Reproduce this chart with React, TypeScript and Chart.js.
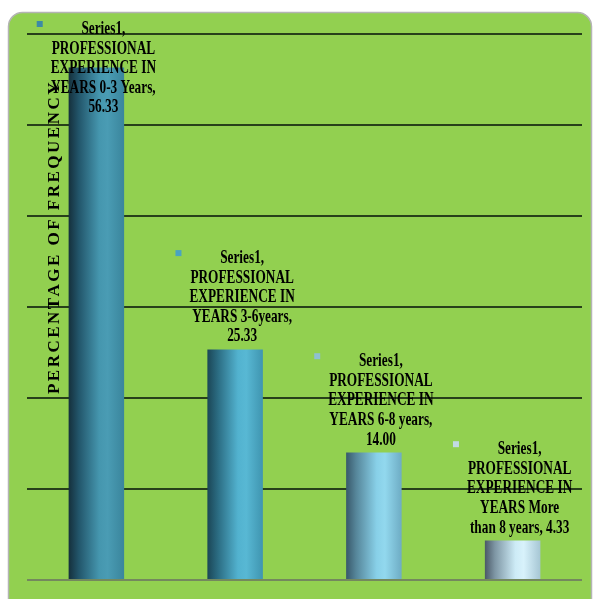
import React, { useEffect, useRef } from "react";
import { Chart, registerables } from "chart.js";

Chart.register(...registerables);

// ---- data ----
const seriesName = "Series1";
const categories = [
  "PROFESSIONAL EXPERIENCE IN YEARS 0-3 Years",
  "PROFESSIONAL EXPERIENCE IN YEARS 3-6years",
  "PROFESSIONAL EXPERIENCE IN YEARS 6-8 years",
  "PROFESSIONAL EXPERIENCE IN YEARS More than 8 years",
];
const values = [56.33, 25.33, 14.0, 4.33];
const yMin = 0;
const yMax = 60;
const yStep = 10;
const axisTitle = "PERCENTAGE OF FREQUENCY";

// ---- styles ----
const barStops = [
  ["#15303c", "#22556a", "#4596ae", "#4a9cb4", "#3a859c"],
  ["#1b4656", "#2a6a80", "#52b2cf", "#58b8d4", "#3f95b0"],
  ["#38586a", "#56869a", "#88d0e8", "#92d8ee", "#6eacc4"],
  ["#4a5866", "#7e96a4", "#cdebf6", "#d8f2fb", "#a6c6d4"],
];
const keyColors = ["#3c8aa6", "#4aa3c2", "#8ec0d2", "#c2dbe4"];
const LABEL_FONT = 'bold 19px "Liberation Serif", "Times New Roman", serif';
const SX = 0.7;
const LH = 19.6;
const GAP = 8;
const KEY = 6;
const KEYGAP = 8;
const MAXW = 107.3;

function wrap(ctx: CanvasRenderingContext2D, text: string, maxW: number) {
  const words = text.split(" ");
  const lines: string[] = [];
  let cur = "";
  for (const w of words) {
    const t = cur ? cur + " " + w : w;
    if (cur && ctx.measureText(t).width * SX > maxW) {
      lines.push(cur);
      cur = w;
    } else cur = t;
  }
  if (cur) lines.push(cur);
  return lines;
}

const panelPlugin = {
  id: "panel",
  beforeDraw(chart: any) {
    const ctx = chart.ctx;
    ctx.save();
    ctx.beginPath();
    ctx.roundRect(8.5, 12.5, 583, 600, 14);
    ctx.fillStyle = "#92d050";
    ctx.fill();
    ctx.lineWidth = 1.5;
    ctx.strokeStyle = "#b4b4b4";
    ctx.stroke();
    ctx.restore();
  },
};

const labelPlugin = {
  id: "labels",
  afterDatasetsDraw(chart: any) {
    const ctx = chart.ctx;
    const area = chart.chartArea;
    ctx.save();
    // axis title
    ctx.translate(area.left + 28, (area.top + area.bottom) / 2 - 70);
    ctx.rotate(-Math.PI / 2);
    ctx.font = 'bold 17px "Liberation Serif", "Times New Roman", serif';
    (ctx as any).letterSpacing = "2.5px";
    ctx.fillStyle = "#000";
    ctx.textAlign = "center";
    ctx.textBaseline = "middle";
    ctx.fillText(axisTitle, 0, 0);
    ctx.restore();

    const meta = chart.getDatasetMeta(0);
    ctx.save();
    ctx.font = LABEL_FONT;
    meta.data.forEach((el: any, i: number) => {
      const text = `${seriesName}, ${categories[i]}, ${values[i].toFixed(2)}`;
      const lines = wrap(ctx, text, MAXW);
      const W = Math.max(...lines.map((l) => ctx.measureText(l).width * SX));
      const cx = el.x + (KEY + KEYGAP) / 2;
      const lastBase = el.y - GAP;
      let firstBase = lastBase - LH * (lines.length - 1);
      if (firstBase < area.top) firstBase = area.top;
      ctx.fillStyle = keyColors[i];
      ctx.fillRect(cx - W / 2 - KEYGAP - KEY, firstBase - 13, KEY, KEY);
      ctx.fillStyle = "#000";
      ctx.textAlign = "center";
      ctx.textBaseline = "alphabetic";
      lines.forEach((l, k) => {
        ctx.save();
        ctx.translate(cx, firstBase + k * LH);
        ctx.scale(SX, 1);
        ctx.fillText(l, 0, 0);
        ctx.restore();
      });
    });
    ctx.restore();
  },
};

export default function App() {
  const ref = useRef<HTMLCanvasElement | null>(null);
  useEffect(() => {
    if (!ref.current) return;
    const chart = new Chart(ref.current, {
      type: "bar",
      data: {
        labels: categories,
        datasets: [
          {
            label: seriesName,
            data: values,
            categoryPercentage: 1,
            barPercentage: 0.4,
            backgroundColor: (c: any) => {
              const chart = c.chart;
              const xs = chart.scales.x;
              const i = c.dataIndex;
              if (!xs || i == null || !barStops[i]) return "#4a9cb4";
              const cx = xs.getPixelForValue(i);
              const w = (xs.width / categories.length) * 0.4;
              if (!Number.isFinite(cx) || !Number.isFinite(w) || w <= 0) return barStops[i][3];
              const g = chart.ctx.createLinearGradient(cx - w / 2, 0, cx + w / 2, 0);
              const s = barStops[i];
              g.addColorStop(0, s[0]);
              g.addColorStop(0.18, s[1]);
              g.addColorStop(0.55, s[2]);
              g.addColorStop(0.7, s[3]);
              g.addColorStop(1, s[4]);
              return g;
            },
          },
        ],
      },
      options: {
        animation: false,
        responsive: true,
        maintainAspectRatio: false,
        layout: { padding: { left: 27, right: 12, top: 34, bottom: 19 } },
        plugins: { legend: { display: false }, tooltip: { enabled: false } },
        scales: {
          x: { display: false },
          y: {
            min: yMin,
            max: yMax,
            ticks: { display: false, stepSize: yStep },
            border: { display: false },
            grid: {
              drawTicks: false,
              lineWidth: 2,
              color: (c: any) => (c.tick && c.tick.value === 0 ? "#74885e" : "#27401a"),
            },
          },
        },
      },
      plugins: [panelPlugin, labelPlugin],
    });
    return () => chart.destroy();
  }, []);
  return (
    <div style={{ position: "absolute", left: 0, top: 0, width: 594, height: 599 }}>
      <canvas ref={ref} />
    </div>
  );
}
